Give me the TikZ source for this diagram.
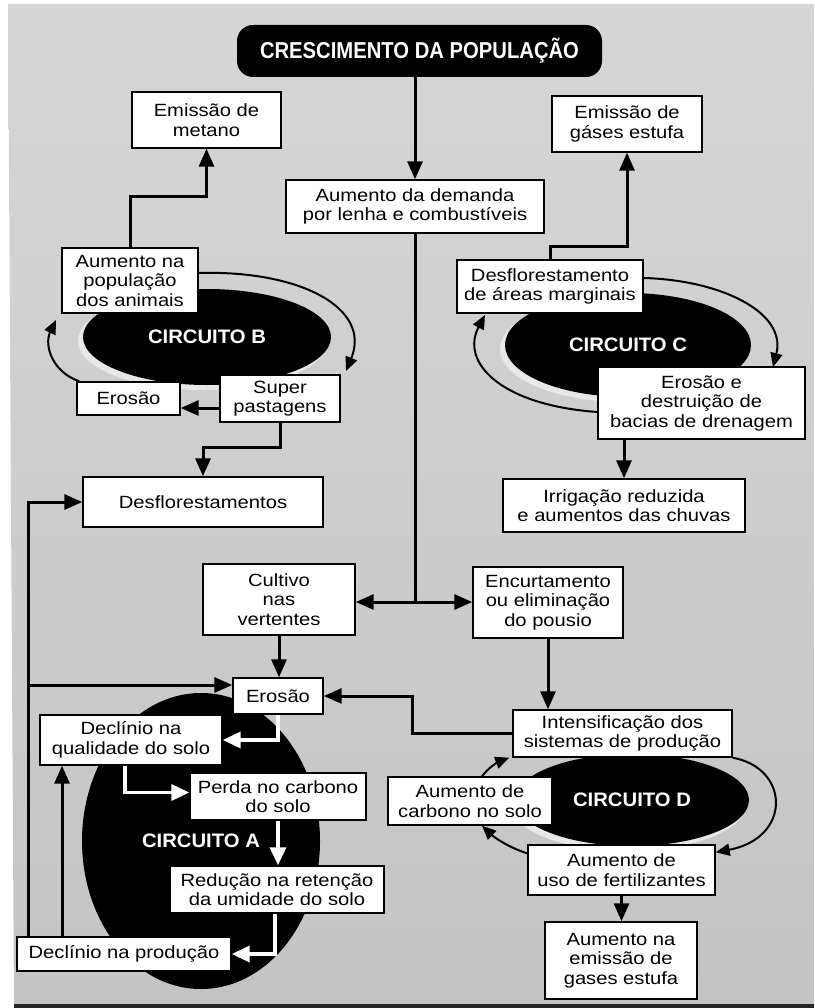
\documentclass[tikz,border=0pt]{standalone}
\usepackage{fontspec}
\usetikzlibrary{arrows.meta,shapes.geometric}
\newfontfamily\boxfont{Liberation Sans}[FakeStretch=1.14]
\newfontfamily\headfont{Liberation Sans}[FakeStretch=0.88]
\newfontfamily\circfont{Liberation Sans}[FakeStretch=1.04]
\definecolor{bgtop}{RGB}{214,214,214}
\definecolor{bgbot}{RGB}{196,196,196}
\definecolor{halo}{RGB}{232,232,232}
\begin{document}
\begin{tikzpicture}[x=1pt,y=-1pt,
  box/.style={draw=black, line width=1.4pt, fill=white, inner sep=2pt, align=center,
    font={\boxfont\fontsize{17.7}{19.5}\selectfont}},
  circ/.style={ellipse, fill=black, inner sep=0pt, text=white,
    font={\circfont\bfseries\fontsize{19.5}{21}\selectfont}},
  arr/.style={line width=3pt, -{Triangle[length=18pt,width=15pt]}},
  plain/.style={line width=3pt},
  carr/.style={line width=2pt, -{Triangle[length=14pt,width=12pt]}},
  warr/.style={line width=3.5pt, white, -{Triangle[length=18pt,width=16pt]}}]
\useasboundingbox (0,0) rectangle (814,1008);
% background
\shade[top color=bgtop, bottom color=bgbot] (8,4) -- (814,4) -- (814,1005) -- (14,1005) -- cycle;
\fill[black!85] (14,1004) rectangle (814,1008);

% circuit ellipses
\fill[halo] (203,341) ellipse [x radius=125, y radius=49];
\node[circ, minimum width=248pt, minimum height=96pt] (cB) at (207,337) {CIRCUITO B};
\fill[halo] (624,349) ellipse [x radius=124, y radius=53];
\node[circ, minimum width=246pt, minimum height=104pt] (cC) at (628,345) {CIRCUITO C};
\node[circ, minimum width=238pt, minimum height=296pt] (cA) at (201,841) {CIRCUITO A};
\fill[halo] (628,804) ellipse [x radius=118, y radius=47];
\node[circ, minimum width=234pt, minimum height=92pt] (cD) at (632,800) {CIRCUITO D};

% header
\node[fill=black, rounded corners=16pt, minimum width=365pt, minimum height=52pt, inner sep=0pt,
  text=white, font={\headfont\bfseries\fontsize{23}{25}\selectfont}] (cres) at (419.5,51) {CRESCIMENTO DA POPULAÇÃO};

% boxes
\node[box, minimum width=149pt, minimum height=56pt] (met) at (206.5,120) {Emissão de\\metano};
\node[box, minimum width=150pt, minimum height=56pt] (gas1) at (627,124) {Emissão de\\gáses estufa};
\node[box, minimum width=258pt, minimum height=53pt] (dem) at (415,206.5) {Aumento da demanda\\por lenha e combustíveis};
\node[box, minimum width=136pt, minimum height=65pt] (pop) at (130,280.5) {Aumento na\\população\\dos animais};
\node[box, minimum width=103pt, minimum height=33pt] (eroB) at (128.5,398.5) {Erosão};
\node[box, minimum width=120pt, minimum height=47pt] (sup) at (280,398.5) {Super\\pastagens};
\node[box, minimum width=240pt, minimum height=50pt] (desf) at (203,502) {Desflorestamentos};
\node[box, minimum width=186pt, minimum height=53pt] (dma) at (550,286.5) {Desflorestamento\\de áreas marginais};
\node[box, minimum width=207pt, minimum height=72pt] (eroC) at (701.5,403) {Erosão e\\destruição de\\bacias de drenagem};
\node[box, minimum width=242pt, minimum height=53pt] (irr) at (624,505.5) {Irrigação reduzida\\e aumentos das chuvas};
\node[box, minimum width=152pt, minimum height=71pt] (cult) at (279,599.5) {Cultivo\\nas\\vertentes};
\node[box, minimum width=150pt, minimum height=71pt] (enc) at (548,602.5) {Encurtamento\\ou eliminação\\do pousio};
\node[box, minimum width=90pt, minimum height=36pt] (eroA) at (278,696) {Erosão};
\node[box, minimum width=182pt, minimum height=50pt] (dqs) at (131,740) {Declínio na\\qualidade do solo};
\node[box, minimum width=219pt, minimum height=47pt] (int) at (622.5,733.5) {Intensificação dos\\sistemas de produção};
\node[box, minimum width=176pt, minimum height=47pt] (perda) at (278,796.5) {Perda no carbono\\do solo};
\node[box, minimum width=164pt, minimum height=48pt] (carb) at (470,801) {Aumento de\\carbono no solo};
\node[box, minimum width=214pt, minimum height=47pt] (red) at (277,889.5) {Redução na retenção\\da umidade do solo};
\node[box, minimum width=187pt, minimum height=50pt] (uso) at (621.5,870) {Aumento de\\uso de fertilizantes};
\node[box, minimum width=214pt, minimum height=34pt] (dprod) at (124,954) {Declínio na produção};
\node[box, minimum width=152pt, minimum height=77pt] (emi) at (621,960.5) {Aumento na\\emissão de\\gases estufa};

% curved circuit arrows
\draw[carr] ([yshift=7.5pt]pop.east) .. controls (300,270) and (372,308) .. (346,371);
\draw[carr] ([xshift=3pt]eroB.north west) .. controls (52,372) and (44,345) .. (56,320);
\draw[carr] ([yshift=8.5pt]dma.east) .. controls (720,280) and (787,312) .. (773,367);
\draw[carr] ([yshift=-9pt]eroC.west) .. controls (500,405) and (460,362) .. (485,315);
\draw[carr] (int.south east) .. controls (790,768) and (792,838) .. ([yshift=-8pt]uso.north east);
\draw[carr] ([yshift=-9pt]uso.north west) .. controls (510,848) and (495,838) .. ([xshift=12pt]carb.south);
\draw[carr] ([xshift=12pt]carb.north) .. controls (488,768) and (498,762) .. ([xshift=-3pt]int.south west);

% black connectors
\draw[arr] (cres.south -| dem.north) -- (dem.north);
\coordinate (split) at (415,602);
\draw[plain] (dem.south) -- (split);
\draw[arr] (split) -- (split -| cult.east);
\draw[arr] (split) -- (split -| enc.west);
\draw[arr] (pop.north) -- ++(0,-51) -| (met.south);
\draw[arr] (dma.north) -- ++(0,-13) -| (gas1.south);
\draw[arr] ([yshift=-9.5pt]sup.west) -- ([yshift=-9.5pt]sup.west -| eroB.east);
\draw[arr] (sup.south) -- ++(0,25) -| (desf.north);
\coordinate (lx) at (28,0);
\draw[arr] (dprod.north -| lx) |- (desf.west);
\coordinate (jA) at (28,685);
\draw[arr] (jA) -- (jA -| eroA.west);
\coordinate (lx2) at (62,0);
\draw[arr] (dprod.north -| lx2) -- (dqs.south -| lx2);
\draw[arr] (cult.south) -- (cult.south |- eroA.north);
\draw[arr] (int.west) -- ++(-100,0) |- (eroA.east);
\draw[arr] (enc.south) -- (enc.south |- int.north);
\draw[arr] (eroC.south -| irr.north) -- (irr.north);
\draw[arr] (uso.south) -- (uso.south |- emi.north);

% white connectors in circuit A
\draw[warr] (eroA.south) |- (dqs.east);
\draw[warr] ([xshift=-6pt]dqs.south) |- ([yshift=4pt]perda.west);
\draw[warr] (perda.south) -- (perda.south |- red.north);
\draw[warr] ([xshift=-2pt]red.south) |- (dprod.east);
\end{tikzpicture}
\end{document}
